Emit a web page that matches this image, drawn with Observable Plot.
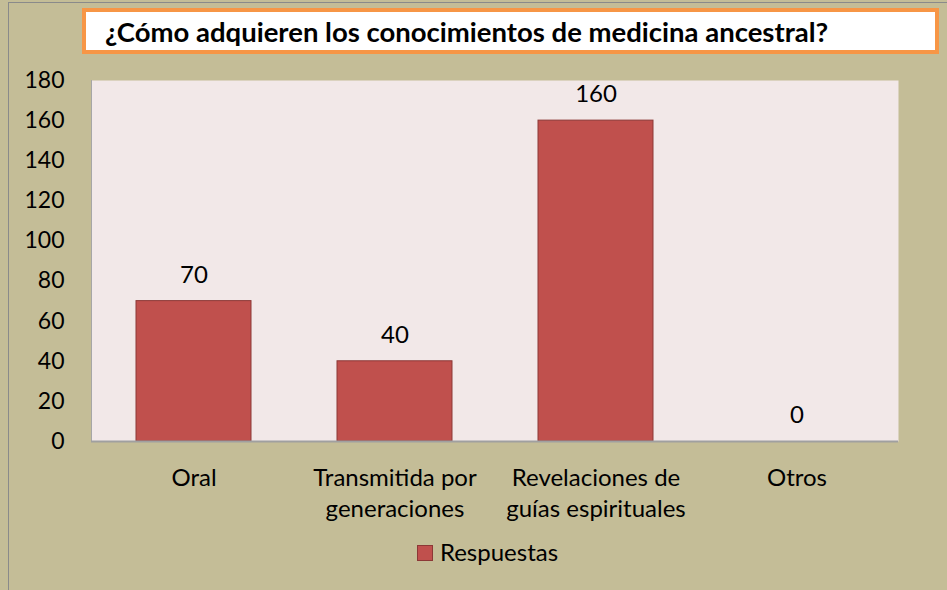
<!DOCTYPE html>
<html>
<head>
<meta charset="utf-8">
<script src="https://cdn.jsdelivr.net/npm/d3@7"></script>
<script src="https://cdn.jsdelivr.net/npm/@observablehq/plot@0.6"></script>
<style>
  html, body { margin: 0; padding: 0; }
  body { width: 947px; height: 590px; overflow: hidden; background: #c4bd97; font-family: Lato, "Noto Sans", sans-serif; }
  #wrap { position: relative; width: 947px; height: 590px; }
  #frame { position: absolute; left: 8px; top: 2px; right: 0; bottom: 0; border-left: 1px solid #8a8a8a; border-top: 1px solid #8a8a8a; pointer-events: none; }
  #title { position: absolute; left: 82px; top: 8px; width: 830px; height: 38px; border: 4px solid #f79646; background: #ffffff;
           font-weight: bold; font-size: 27.5px; line-height: 40px; padding-left: 19px; box-sizing: content-box; color: #000; white-space: nowrap; }
  #chart { position: absolute; left: 0; top: 0; }
  #legend { position: absolute; left: 14px; top: 537px; width: 947px; text-align: center; font-size: 24px; color: #000; }
  #legend .sw { display: inline-block; width: 14px; height: 14px; background: #c0504d; border: 1px solid #8c3836; vertical-align: 0px; margin-right: 7px; }
</style>
</head>
<body>
<div id="wrap">
  <div id="chart"></div>
  <div id="frame"></div>
  <div id="title">¿Cómo adquieren los conocimientos de medicina ancestral?</div>
  <div id="legend"><span class="sw"></span>Respuestas</div>
</div>
<script>
const categories = ["Oral", "Transmitida por generaciones", "Revelaciones de guías espirituales", "Otros"];
const tickLabels = ["Oral", "Transmitida por\ngeneraciones", "Revelaciones de\nguías espirituales", "Otros"];
const values = [70, 40, 160, 0];
const yTicks = [0, 20, 40, 60, 80, 100, 120, 140, 160, 180];

const data = categories.map((c, i) => ({category: c, value: values[i], label: tickLabels[i]}));

const chart = Plot.plot({
  width: 947,
  height: 590,
  marginTop: 80,
  marginBottom: 149,
  marginLeft: 91,
  marginRight: 49,
  style: {background: "transparent", fontFamily: "Lato, 'Noto Sans', sans-serif", fontSize: "23px", color: "#000"},
  x: {domain: categories, paddingInner: 0.43, paddingOuter: 0.215, label: null},
  y: {domain: [0, 180], label: null},
  marks: [
    Plot.frame({fill: "#f2e8e8", stroke: null}),
    Plot.frame({anchor: "left", stroke: "#a6a6a6"}),
    Plot.axisY({ticks: yTicks, tickSize: 0, tickPadding: 27, label: null, fontSize: 23}),
    Plot.axisX({tickSize: 0, tickPadding: 22, label: null, fontSize: 24, lineHeight: 1.3,
      tickFormat: (d) => tickLabels[categories.indexOf(d)]}),
    Plot.barY(data, {x: "category", y: "value", fill: "#c0504d", stroke: "#8c3836", strokeWidth: 1}),
    Plot.ruleY([0], {stroke: "#a0a0a0", strokeWidth: 2}),
    Plot.text(data, {x: "category", y: "value", text: (d) => String(d.value), dy: -26, fontSize: 24, fill: "#000"})
  ]
});
document.getElementById("chart").appendChild(chart);
</script>
</body>
</html>
